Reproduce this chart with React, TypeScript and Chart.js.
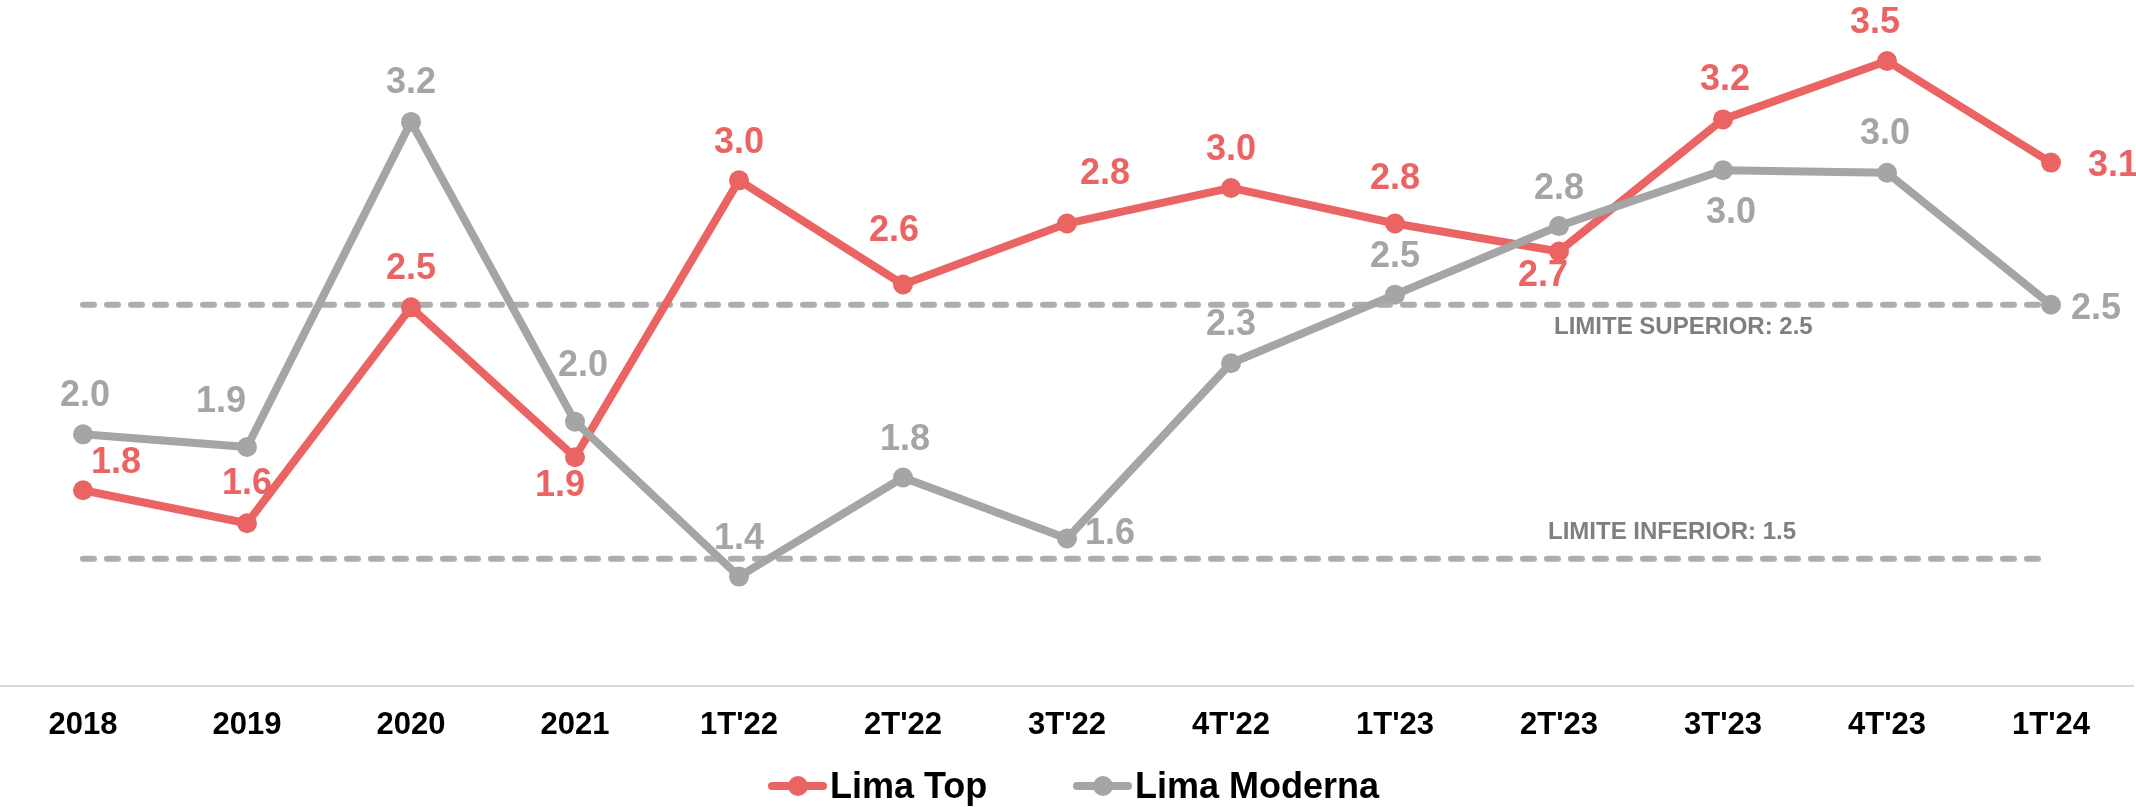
import React, { useEffect, useRef } from "react";
import { Chart, registerables } from "chart.js";

Chart.register(...registerables);

// ---------- data ----------
const categories = ["2018", "2019", "2020", "2021", "1T'22", "2T'22", "3T'22", "4T'22", "1T'23", "2T'23", "3T'23", "4T'23", "1T'24"];
const seriesNames = ["Lima Top", "Lima Moderna"];
const limaTop = [1.77, 1.64, 2.49, 1.9, 2.99, 2.58, 2.82, 2.96, 2.82, 2.71, 3.23, 3.46, 3.06];
const limaModerna = [1.99, 1.94, 3.22, 2.04, 1.43, 1.82, 1.58, 2.27, 2.54, 2.81, 3.03, 3.02, 2.5];
const upperLimit = 2.5;
const lowerLimit = 1.5;
const limiteSuperior = [2.5, 2.5, 2.5, 2.5, 2.5, 2.5, 2.5, 2.5, 2.5, 2.5, 2.5, 2.5, 2.5];
const limiteInferior = [1.5, 1.5, 1.5, 1.5, 1.5, 1.5, 1.5, 1.5, 1.5, 1.5, 1.5, 1.5, 1.5];
const limitLabels = ["LIMITE SUPERIOR: " + upperLimit.toFixed(1), "LIMITE INFERIOR: " + lowerLimit.toFixed(1)];

// ---------- label placement (dx, dy from each point) ----------
const topLabelOffsets = [[33, -27], [0, -39], [0, -38], [-15, 29], [0, -37], [-9, -53], [38, -49], [0, -38], [0, -44], [-16, 25], [2, -39], [-12, -38], [62, 4]];
const modernaLabelOffsets = [[2, -38], [-26, -45], [0, -39], [8, -56], [0, -38], [2, -37], [43, -4], [0, -38], [0, -38], [0, -37], [8, 43], [-2, -39], [45, 4]];

// ---------- styles ----------
const RED = "#EB6464";
const GRAY = "#A5A5A5";
const DASH = "#ADADAD";
const LIMIT_TEXT = "#7F7F7F";
const FONT = "'Liberation Sans', Arial, Helvetica, sans-serif";

const labelPlugin = {
  id: "pointValueLabels",
  afterDatasetsDraw(chart: any) {
    const ctx = chart.ctx;
    ctx.save();
    ctx.font = `bold 36px ${FONT}`;
    ctx.textAlign = "center";
    ctx.textBaseline = "middle";
    const cfg: [number, number[][], string][] = [
      [0, topLabelOffsets, RED],
      [1, modernaLabelOffsets, GRAY],
    ];
    cfg.forEach(([dsIndex, offsets, color]) => {
      const meta = chart.getDatasetMeta(dsIndex);
      const values = chart.data.datasets[dsIndex].data as number[];
      ctx.fillStyle = color;
      meta.data.forEach((pt: any, i: number) => {
        const [dx, dy] = offsets[i];
        ctx.fillText(values[i].toFixed(1), pt.x + dx, pt.y + dy);
      });
    });
    // limit labels
    const xs = chart.scales.x;
    const ys = chart.scales.y;
    ctx.font = `bold 24px ${FONT}`;
    ctx.fillStyle = LIMIT_TEXT;
    ctx.textAlign = "left";
    const lx = xs.getPixelForValue(9) - 5;
    ctx.fillText(limitLabels[0], lx, ys.getPixelForValue(upperLimit) + 23);
    ctx.fillText(limitLabels[1], lx - 6, ys.getPixelForValue(lowerLimit) - 26);
    ctx.restore();
  },
};

function LegendItem({ color, label, left }: { color: string; label: string; left: number }) {
  return (
    <div style={{ position: "absolute", left, top: 764, height: 44, display: "flex", alignItems: "center" }}>
      <div style={{ position: "relative", width: 59, height: 20 }}>
        <div style={{ position: "absolute", left: 0, top: 6, width: 59, height: 8, borderRadius: 4, background: color }} />
        <div style={{ position: "absolute", left: 19.5, top: 0, width: 20, height: 20, borderRadius: 10, background: color }} />
      </div>
      <span style={{ marginLeft: 3, font: `bold 36px ${FONT}`, color: "#000", lineHeight: "44px", whiteSpace: "nowrap" }}>{label}</span>
    </div>
  );
}

export default function App() {
  const canvasRef = useRef<HTMLCanvasElement | null>(null);

  useEffect(() => {
    if (!canvasRef.current) return;
    const chart = new Chart(canvasRef.current, {
      type: "line",
      data: {
        labels: categories,
        datasets: [
          {
            label: seriesNames[0],
            data: limaTop,
            borderColor: RED,
            backgroundColor: RED,
            borderWidth: 8,
            pointRadius: 10,
            pointHoverRadius: 10,
            pointBackgroundColor: RED,
            pointBorderColor: RED,
            pointBorderWidth: 0,
            tension: 0,
            order: 2,
            clip: false as any,
          },
          {
            label: seriesNames[1],
            data: limaModerna,
            borderColor: GRAY,
            backgroundColor: GRAY,
            borderWidth: 8,
            pointRadius: 10,
            pointHoverRadius: 10,
            pointBackgroundColor: GRAY,
            pointBorderColor: GRAY,
            pointBorderWidth: 0,
            tension: 0,
            order: 1,
            clip: false as any,
          },
          {
            label: limitLabels[0],
            data: limiteSuperior,
            borderColor: DASH,
            borderWidth: 6,
            borderDash: [11, 13],
            borderCapStyle: "round",
            pointRadius: 0,
            order: 3,
          },
          {
            label: limitLabels[1],
            data: limiteInferior,
            borderColor: DASH,
            borderWidth: 6,
            borderDash: [11, 13],
            borderCapStyle: "round",
            pointRadius: 0,
            order: 4,
          },
        ],
      },
      options: {
        responsive: false,
        animation: false,
        devicePixelRatio: 1,
        layout: { autoPadding: false, padding: { left: 1, right: 3, top: 0, bottom: 42 } },
        plugins: {
          legend: { display: false },
          tooltip: { enabled: false },
        },
        scales: {
          x: {
            offset: true,
            grid: { display: false, drawTicks: false },
            border: { display: true, color: "#D9D9D9", width: 2 },
            ticks: {
              color: "#000",
              font: { family: FONT, size: 31, weight: "bold" },
              padding: 21,
              maxRotation: 0,
              autoSkip: false,
            },
          },
          y: {
            display: false,
            min: 1,
            max: 3.7,
          },
        },
      },
      plugins: [labelPlugin],
    });
    return () => chart.destroy();
  }, []);

  return (
    <div style={{ position: "absolute", left: 0, top: 0, width: 2136, height: 807, background: "#fff" }}>
      <canvas ref={canvasRef} width={2136} height={807} style={{ display: "block", width: 2136, height: 807 }} />
      <LegendItem color={RED} label={seriesNames[0]} left={768} />
      <LegendItem color={GRAY} label={seriesNames[1]} left={1073} />
    </div>
  );
}
